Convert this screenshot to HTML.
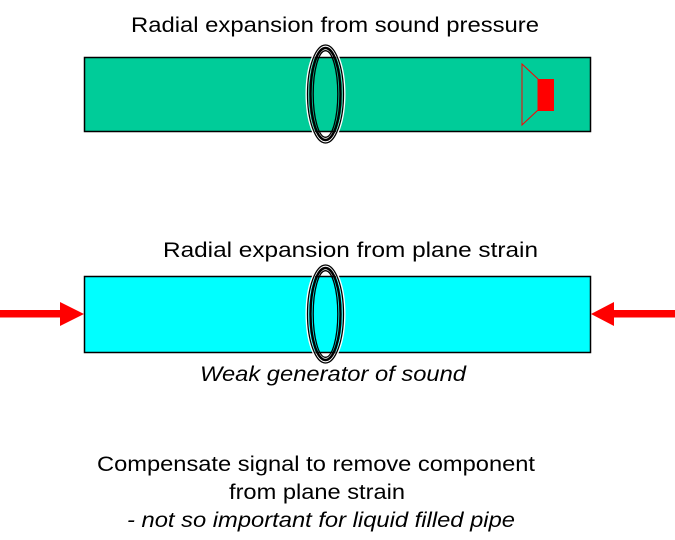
<!DOCTYPE html>
<html>
<head>
<meta charset="utf-8">
<style>
html,body{margin:0;padding:0;background:#fff;}
svg{display:block;}
text{font-family:"Liberation Sans",Arial,sans-serif;font-size:21px;fill:#000;}
</style>
</head>
<body>
<svg width="675" height="540" viewBox="0 0 675 540" xmlns="http://www.w3.org/2000/svg">
  <!-- Titles -->
  <text x="131" y="32" textLength="408" lengthAdjust="spacingAndGlyphs">Radial expansion from sound pressure</text>

  <!-- Top pipe -->
  <rect x="84.5" y="57.5" width="506" height="74" fill="#00CC99" stroke="#000" stroke-width="1.5"/>
  <!-- speaker -->
  <polygon points="522,64 538,79 538,110 522,125" fill="none" stroke="#FF0000" stroke-width="1"/>
  <rect x="538" y="79" width="16" height="32" fill="#FF0000"/>
  <!-- top ring -->
  <g fill="none">
    <ellipse cx="325.5" cy="94" rx="18.5" ry="49.5" stroke="#fff" stroke-width="3"/>
    <ellipse cx="325.5" cy="94" rx="18" ry="49" stroke="#000" stroke-width="1.3"/>
    <ellipse cx="325.5" cy="94" rx="15" ry="46" stroke="#000" stroke-width="2.4"/>
    <ellipse cx="325.5" cy="94" rx="12.3" ry="43.3" stroke="#000" stroke-width="1.3"/>
  </g>

  <text x="163" y="257" textLength="375" lengthAdjust="spacingAndGlyphs">Radial expansion from plane strain</text>

  <!-- Bottom pipe -->
  <rect x="84.5" y="276.5" width="506" height="76" fill="#00FFFF" stroke="#000" stroke-width="1.5"/>
  <!-- bottom ring -->
  <g fill="none">
    <ellipse cx="325.5" cy="314" rx="18.5" ry="49.5" stroke="#fff" stroke-width="3"/>
    <ellipse cx="325.5" cy="314" rx="18" ry="49" stroke="#000" stroke-width="1.3"/>
    <ellipse cx="325.5" cy="314" rx="15" ry="46" stroke="#000" stroke-width="2.4"/>
    <ellipse cx="325.5" cy="314" rx="12.3" ry="43.3" stroke="#000" stroke-width="1.3"/>
  </g>

  <!-- Arrows -->
  <rect x="0" y="310" width="61" height="7.5" fill="#FF0000"/>
  <polygon points="60,302 84,314 60,326" fill="#FF0000"/>
  <rect x="613" y="310" width="62" height="7.5" fill="#FF0000"/>
  <polygon points="591,314 614,302 614,326" fill="#FF0000"/>

  <text x="200" y="381" font-style="italic" textLength="266" lengthAdjust="spacingAndGlyphs">Weak generator of sound</text>

  <!-- Bottom text -->
  <text x="97" y="471" textLength="438" lengthAdjust="spacingAndGlyphs">Compensate signal to remove component</text>
  <text x="229" y="499" textLength="176" lengthAdjust="spacingAndGlyphs">from plane strain</text>
  <text x="127" y="527" font-style="italic" textLength="388" lengthAdjust="spacingAndGlyphs">- not so important for liquid filled pipe</text>
</svg>
</body>
</html>
